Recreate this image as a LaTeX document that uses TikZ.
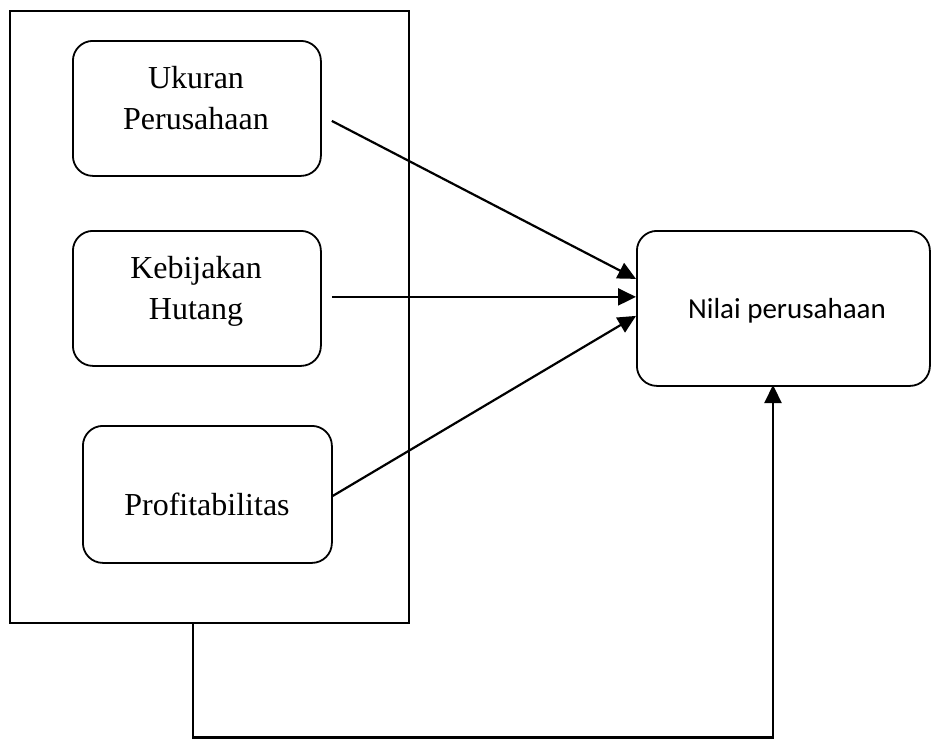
\documentclass[tikz,border=0pt]{standalone}
\usepackage{fontspec}
\setmainfont{Liberation Serif}
\newfontfamily\calibrifont{Carlito}
\usetikzlibrary{arrows.meta,calc}
\begin{document}
\begin{tikzpicture}[x=1pt,y=-1pt,
  line width=1.8pt,
  varbox/.style={draw, rounded corners=20pt, anchor=north west, inner sep=0pt},
  lbl/.style={anchor=base, inner sep=0pt, font=\fontsize{32pt}{38pt}\selectfont},
  conn/.style={-{Triangle[length=18pt,width=17pt]}, line width=2.2pt}
]
\useasboundingbox (0,0) rectangle (931,739);
% outer frame
\node[draw, anchor=north west, inner sep=0pt, minimum width=399pt, minimum height=612pt] (outer) at (9,10) {};
% variable boxes
\node[varbox, minimum width=248pt, minimum height=135pt] (uk) at (72,40) {};
\node[varbox, minimum width=248pt, minimum height=135pt] (kh) at (72,230) {};
\node[varbox, minimum width=249pt, minimum height=137pt] (pf) at (82,425) {};
\node[varbox, minimum width=293pt, minimum height=155pt] (nv) at (636,230) {};
% texts
\node[lbl] (t1) at (196,88) {Ukuran};
\node[lbl] (t2) at (196,129) {Perusahaan};
\node[lbl] (t3) at (196,278) {Kebijakan};
\node[lbl] (t4) at (196,319) {Hutang};
\node[lbl] (t5) at (207,515) {Profitabilitas};
\node[anchor=base, inner sep=0pt, font=\calibrifont\fontsize{29pt}{35pt}\selectfont] (t6) at (787,318) {Nilai perusahaan};
% connector endpoints
\coordinate (s1) at ($(uk.east)+(10,12.5)$);
\coordinate (s2) at ($(kh.east)+(10,-1.5)$);
\coordinate (s3) at ($(pf.east)+(0,1.5)$);
\coordinate (e1) at ($(nv.west)+(0,-29.5)$);
\coordinate (e2) at ($(nv.west)+(0,-11.5)$);
\coordinate (e3) at ($(nv.west)+(0,7.5)$);
\draw[conn] (s1) -- (e1);
\draw[conn] (s2) -- (e2);
\draw[conn] (s3) -- (e3);
% bottom feedback connector
\coordinate (b0) at (193,622);
\coordinate (b1) at (193,737.5);
\coordinate (b2) at (773,737.5);
\coordinate (b3) at (773,385);
\draw[conn] (b0) -- (b1) -- (b2) -- (b3);
\end{tikzpicture}
\end{document}
